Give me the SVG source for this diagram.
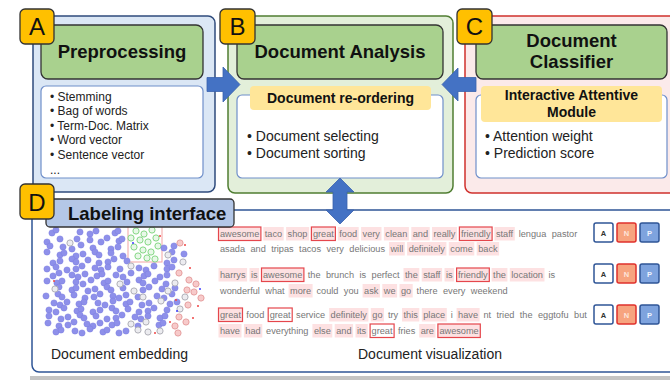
<svg xmlns="http://www.w3.org/2000/svg" width="670" height="380" viewBox="0 0 670 380">
<defs>
<style>
text{font-family:"Liberation Sans",Arial,sans-serif}
.hdr{fill:#a9d18e;stroke:#333;stroke-width:1.3}
.ht{font-size:18.5px;font-weight:bold;fill:#111;text-anchor:middle}
.wb{fill:#fff;stroke:#6f8fca;stroke-width:1.2}
.yl{fill:#ffe699}
.yt{font-size:14px;font-weight:bold;fill:#111;text-anchor:middle}
.li{font-size:12px;fill:#222}
.lm{font-size:14px;fill:#222}
.lab{fill:#ffc000;stroke:#333;stroke-width:1.3}
.lt{font-size:24px;fill:#111;text-anchor:middle}
.arr{fill:#4472c4;stroke:#3a62ad;stroke-width:0.8}
.b circle{r:3.1px}
.b{fill:#8e90ea;stroke:#8082e2;stroke-width:0.6}
.g{fill:#ececf0;stroke:#b0b0b8;stroke-width:1}
.pk{fill:#f7caca;stroke:#e6a0a0;stroke-width:1}
.gr{fill:#e8f8e8;stroke:#86d886;stroke-width:1}
.rs{fill:#ef4444}
.bs{fill:#2b2bff}
.w{font-size:9.2px;fill:#777}
.p{fill:#fde1e2}
.k{fill:#fde1e2;stroke:#e5464c;stroke-width:1.2}
.kw{fill:#fff;stroke:#e5464c;stroke-width:1.2}
.btA{fill:#fff;stroke:#2f5597;stroke-width:1.5}
.btN{fill:#f7a47f;stroke:#e0312c;stroke-width:1.5}
.btP{fill:#7ea3de;stroke:#2f5597;stroke-width:1.5}
.bt{font-size:7.5px;font-weight:bold;text-anchor:middle}
</style>
</defs>
<rect width="670" height="380" fill="#fff"/>
<rect x="30" y="376" width="640" height="4" fill="#c4c4c4"/>

<g id="panelA">
<rect x="33" y="16" width="182" height="176" rx="7" fill="#dbe7f5" stroke="#2f4b7c" stroke-width="1.5"/>
<rect class="hdr" x="41" y="25" width="162" height="54" rx="7"/>
<text class="ht" x="122" y="58">Preprocessing</text>
<rect class="wb" x="41" y="86" width="162" height="92" rx="5"/>
<text class="li" x="50" y="100.5">• Stemming</text>
<text class="li" x="50" y="115">• Bag of words</text>
<text class="li" x="50" y="129.7">• Term-Doc. Matrix</text>
<text class="li" x="50" y="144.4">• Word vector</text>
<text class="li" x="50" y="159">• Sentence vector</text>
<text class="li" x="50" y="173.5">...</text>
<rect class="lab" x="20" y="9" width="34" height="35" rx="5"/>
<text class="lt" x="37" y="35">A</text>
</g>

<g id="panelB">
<rect x="228" y="16" width="225" height="177" rx="7" fill="#e3efda" stroke="#507e32" stroke-width="1.5"/>
<rect class="hdr" x="237" y="25" width="206" height="54" rx="7"/>
<text class="ht" x="340" y="58">Document Analysis</text>
<rect class="wb" x="237" y="95" width="206" height="83" rx="5"/>
<rect class="yl" x="250" y="86" width="181" height="24" rx="4"/>
<text class="yt" x="340.5" y="103">Document re-ordering</text>
<text class="lm" x="247" y="140.7">• Document selecting</text>
<text class="lm" x="247" y="158">• Document sorting</text>
<rect class="lab" x="220" y="9" width="35" height="35" rx="5"/>
<text class="lt" x="237.5" y="35">B</text>
</g>

<g id="panelC">
<rect x="465" y="16" width="230" height="177" rx="7" fill="#fbeaea" stroke="#d0312d" stroke-width="1.5"/>
<rect class="hdr" x="476" y="25" width="191" height="54" rx="7"/>
<text class="ht" x="571.5" y="47">Document</text>
<text class="ht" x="571.5" y="68">Classifier</text>
<rect class="wb" x="476" y="95" width="191" height="83" rx="5"/>
<rect class="yl" x="481" y="86" width="181" height="36" rx="4"/>
<text class="yt" x="571.5" y="100">Interactive Attentive</text>
<text class="yt" x="571.5" y="117">Module</text>
<text class="lm" x="485" y="141">• Attention weight</text>
<text class="lm" x="485" y="158">• Prediction score</text>
<rect class="lab" x="457" y="9" width="35" height="35" rx="5"/>
<text class="lt" x="474.5" y="35">C</text>
</g>

<g id="panelD">
<rect x="32" y="210" width="660" height="162" rx="7" fill="#fff" stroke="#2f5597" stroke-width="1.5"/>
<g id="embedding">
<rect x="128" y="226" width="34" height="36" fill="none" stroke="#f2a3a3" stroke-width="1"/>
<g class="gr">
<circle cx="136" cy="231" r="3.1"/><circle cx="144" cy="234" r="3.1"/><circle cx="152" cy="230" r="3.1"/><circle cx="131" cy="238" r="3.1"/><circle cx="140" cy="240" r="3.1"/><circle cx="148" cy="242" r="3.1"/><circle cx="156" cy="238" r="3.1"/><circle cx="134" cy="247" r="3.1"/><circle cx="143" cy="250" r="3.1"/><circle cx="151" cy="252" r="3.1"/><circle cx="158" cy="246" r="3.1"/><circle cx="138" cy="256" r="3.1"/><circle cx="147" cy="258" r="3.1"/><circle cx="155" cy="259" r="3.1"/>
</g>
<g class="b">
<circle cx="52" cy="233" r="3.1"/><circle cx="56" cy="230" r="3.1"/><circle cx="80" cy="232" r="3.1"/><circle cx="90" cy="234" r="3.1"/><circle cx="96" cy="231" r="3.1"/><circle cx="115" cy="233" r="3.1"/><circle cx="118" cy="231" r="3.1"/>
<circle cx="47" cy="242" r="3.1"/><circle cx="60" cy="239" r="3.1"/><circle cx="77" cy="239" r="3.1"/><circle cx="90" cy="240" r="3.1"/><circle cx="101" cy="242" r="3.1"/><circle cx="107" cy="238" r="3.1"/><circle cx="119" cy="241" r="3.1"/><circle cx="122" cy="239" r="3.1"/>
<circle cx="50" cy="246" r="3.1"/><circle cx="63" cy="247" r="3.1"/><circle cx="72" cy="249" r="3.1"/><circle cx="81" cy="245" r="3.1"/><circle cx="93" cy="248" r="3.1"/><circle cx="111" cy="249" r="3.1"/><circle cx="118" cy="247" r="3.1"/><circle cx="164" cy="248" r="3.1"/><circle cx="174" cy="246" r="3.1"/>
<circle cx="47" cy="252" r="3.1"/><circle cx="60" cy="255" r="3.1"/><circle cx="64" cy="253" r="3.1"/><circle cx="76" cy="256" r="3.1"/><circle cx="83" cy="254" r="3.1"/><circle cx="95" cy="252" r="3.1"/><circle cx="99" cy="255" r="3.1"/><circle cx="111" cy="253" r="3.1"/><circle cx="123" cy="256" r="3.1"/><circle cx="172" cy="252" r="3.1"/><circle cx="184" cy="254" r="3.1"/>
<circle cx="53" cy="263" r="3.1"/><circle cx="60" cy="261" r="3.1"/><circle cx="72" cy="259" r="3.1"/><circle cx="76" cy="262" r="3.1"/><circle cx="88" cy="260" r="3.1"/><circle cx="99" cy="263" r="3.1"/><circle cx="108" cy="262" r="3.1"/><circle cx="114" cy="259" r="3.1"/><circle cx="127" cy="261" r="3.1"/><circle cx="167" cy="263" r="3.1"/><circle cx="174" cy="260" r="3.1"/>
<circle cx="47" cy="269" r="3.1"/><circle cx="56" cy="267" r="3.1"/><circle cx="67" cy="270" r="3.1"/><circle cx="76" cy="269" r="3.1"/><circle cx="82" cy="266" r="3.1"/><circle cx="95" cy="268" r="3.1"/><circle cx="101" cy="270" r="3.1"/><circle cx="108" cy="267" r="3.1"/><circle cx="120" cy="269" r="3.1"/><circle cx="139" cy="268" r="3.1"/><circle cx="146" cy="270" r="3.1"/><circle cx="154" cy="266" r="3.1"/><circle cx="167" cy="269" r="3.1"/><circle cx="172" cy="267" r="3.1"/>
<circle cx="53" cy="276" r="3.1"/><circle cx="59" cy="273" r="3.1"/><circle cx="72" cy="275" r="3.1"/><circle cx="78" cy="277" r="3.1"/><circle cx="85" cy="274" r="3.1"/><circle cx="97" cy="276" r="3.1"/><circle cx="102" cy="274" r="3.1"/><circle cx="116" cy="275" r="3.1"/><circle cx="123" cy="277" r="3.1"/><circle cx="131" cy="273" r="3.1"/><circle cx="144" cy="276" r="3.1"/><circle cx="148" cy="274" r="3.1"/><circle cx="160" cy="277" r="3.1"/><circle cx="167" cy="275" r="3.1"/>
<circle cx="47" cy="281" r="3.1"/><circle cx="57" cy="283" r="3.1"/><circle cx="62" cy="281" r="3.1"/><circle cx="76" cy="282" r="3.1"/><circle cx="83" cy="284" r="3.1"/><circle cx="91" cy="280" r="3.1"/><circle cx="104" cy="283" r="3.1"/><circle cx="108" cy="281" r="3.1"/><circle cx="127" cy="282" r="3.1"/><circle cx="139" cy="280" r="3.1"/><circle cx="143" cy="283" r="3.1"/><circle cx="155" cy="281" r="3.1"/><circle cx="166" cy="284" r="3.1"/>
<circle cx="59" cy="287" r="3.1"/><circle cx="72" cy="290" r="3.1"/><circle cx="76" cy="288" r="3.1"/><circle cx="88" cy="291" r="3.1"/><circle cx="95" cy="289" r="3.1"/><circle cx="107" cy="287" r="3.1"/><circle cx="111" cy="290" r="3.1"/><circle cx="123" cy="288" r="3.1"/><circle cx="143" cy="290" r="3.1"/><circle cx="149" cy="287" r="3.1"/><circle cx="162" cy="289" r="3.1"/><circle cx="175" cy="288" r="3.1"/>
<circle cx="46" cy="296" r="3.1"/><circle cx="58" cy="294" r="3.1"/><circle cx="62" cy="297" r="3.1"/><circle cx="74" cy="295" r="3.1"/><circle cx="85" cy="298" r="3.1"/><circle cx="94" cy="297" r="3.1"/><circle cx="100" cy="294" r="3.1"/><circle cx="113" cy="296" r="3.1"/><circle cx="119" cy="298" r="3.1"/><circle cx="126" cy="295" r="3.1"/><circle cx="138" cy="297" r="3.1"/><circle cx="157" cy="296" r="3.1"/><circle cx="164" cy="298" r="3.1"/><circle cx="172" cy="294" r="3.1"/>
<circle cx="54" cy="303" r="3.1"/><circle cx="60" cy="305" r="3.1"/><circle cx="67" cy="302" r="3.1"/><circle cx="79" cy="304" r="3.1"/><circle cx="84" cy="302" r="3.1"/><circle cx="98" cy="303" r="3.1"/><circle cx="105" cy="305" r="3.1"/><circle cx="113" cy="301" r="3.1"/><circle cx="126" cy="304" r="3.1"/><circle cx="130" cy="302" r="3.1"/><circle cx="142" cy="305" r="3.1"/><circle cx="149" cy="303" r="3.1"/><circle cx="170" cy="304" r="3.1"/><circle cx="177" cy="302" r="3.1"/>
<circle cx="49" cy="310" r="3.1"/><circle cx="56" cy="312" r="3.1"/><circle cx="64" cy="308" r="3.1"/><circle cx="77" cy="311" r="3.1"/><circle cx="81" cy="309" r="3.1"/><circle cx="93" cy="312" r="3.1"/><circle cx="100" cy="310" r="3.1"/><circle cx="112" cy="308" r="3.1"/><circle cx="116" cy="311" r="3.1"/><circle cx="128" cy="309" r="3.1"/><circle cx="139" cy="312" r="3.1"/><circle cx="148" cy="311" r="3.1"/><circle cx="154" cy="308" r="3.1"/><circle cx="167" cy="310" r="3.1"/>
<circle cx="49" cy="316" r="3.1"/><circle cx="61" cy="319" r="3.1"/><circle cx="68" cy="317" r="3.1"/><circle cx="80" cy="315" r="3.1"/><circle cx="84" cy="318" r="3.1"/><circle cx="96" cy="316" r="3.1"/><circle cx="107" cy="319" r="3.1"/><circle cx="116" cy="318" r="3.1"/><circle cx="122" cy="315" r="3.1"/><circle cx="135" cy="317" r="3.1"/><circle cx="141" cy="319" r="3.1"/><circle cx="148" cy="316" r="3.1"/><circle cx="160" cy="318" r="3.1"/><circle cx="165" cy="316" r="3.1"/>
<circle cx="48" cy="323" r="3.1"/><circle cx="59" cy="326" r="3.1"/><circle cx="68" cy="325" r="3.1"/><circle cx="74" cy="322" r="3.1"/><circle cx="87" cy="324" r="3.1"/><circle cx="93" cy="326" r="3.1"/><circle cx="100" cy="323" r="3.1"/><circle cx="112" cy="325" r="3.1"/><circle cx="117" cy="323" r="3.1"/><circle cx="138" cy="326" r="3.1"/><circle cx="159" cy="325" r="3.1"/><circle cx="163" cy="323" r="3.1"/>
<circle cx="56" cy="332" r="3.1"/><circle cx="61" cy="330" r="3.1"/><circle cx="75" cy="331" r="3.1"/><circle cx="82" cy="333" r="3.1"/><circle cx="90" cy="329" r="3.1"/><circle cx="103" cy="332" r="3.1"/><circle cx="107" cy="330" r="3.1"/><circle cx="119" cy="333" r="3.1"/><circle cx="126" cy="331" r="3.1"/>
</g>
<g class="g">
<circle cx="70" cy="243" r="3.1"/><circle cx="168" cy="255" r="3.1"/><circle cx="131" cy="266" r="3.1"/><circle cx="120" cy="284" r="3.1"/><circle cx="55" cy="289" r="3.1"/><circle cx="134" cy="291" r="3.1"/><circle cx="168" cy="291" r="3.1"/><circle cx="143" cy="297" r="3.1"/><circle cx="185" cy="297" r="3.1"/><circle cx="161" cy="301" r="3.1"/><circle cx="175" cy="283" r="3.1"/><circle cx="180" cy="309" r="3.1"/><circle cx="131" cy="324" r="3.1"/><circle cx="146" cy="322" r="3.1"/><circle cx="138" cy="330" r="3.1"/><circle cx="148" cy="332" r="3.1"/><circle cx="160" cy="331" r="3.1"/><circle cx="183" cy="262" r="3.1"/>
</g>
<g class="pk">
<circle cx="180" cy="243" r="3.1"/><circle cx="179" cy="273" r="3.1"/><circle cx="189" cy="280" r="3.1"/><circle cx="196" cy="284" r="3.1"/><circle cx="187" cy="290" r="3.1"/><circle cx="194" cy="292" r="3.1"/><circle cx="201" cy="298" r="3.1"/><circle cx="188" cy="305" r="3.1"/><circle cx="179" cy="317" r="3.1"/><circle cx="186" cy="322" r="3.1"/><circle cx="175" cy="326" r="3.1"/><circle cx="178" cy="333" r="3.1"/>
</g>
<g class="rs">
<circle cx="160" cy="236" r="1"/><circle cx="185" cy="245" r="1"/><circle cx="190" cy="268" r="1"/><circle cx="176" cy="300" r="1"/><circle cx="198" cy="306" r="1"/><circle cx="170" cy="322" r="1"/><circle cx="155" cy="333" r="1"/><circle cx="54" cy="281" r="1"/><circle cx="193" cy="318" r="1"/>
</g>
<g class="bs">
<circle cx="177" cy="311" r="0.9"/><circle cx="200" cy="289" r="0.9"/><circle cx="133" cy="243" r="0.9"/>
</g>
</g>
<text class="lm" x="51" y="358.5">Document embedding</text>

<g id="visualization">
<g>
<rect class="k" x="218.5" y="227" width="42.4" height="13.5"/><rect class="p" x="263.3" y="227" width="20.4" height="13.5"/><rect class="p" x="286.1" y="227" width="23" height="13.5"/><rect class="k" x="311.4" y="227" width="24" height="13.5"/><rect class="p" x="337.8" y="227" width="20.9" height="13.5"/><rect class="p" x="361.1" y="227" width="20.4" height="13.5"/><rect class="p" x="383.9" y="227" width="25" height="13.5"/><rect class="p" x="411.3" y="227" width="18.4" height="13.5"/><rect class="p" x="432" y="227" width="25" height="13.5"/><rect class="k" x="459.4" y="227" width="32.7" height="13.5"/><rect class="p" x="494.4" y="227" width="20.4" height="13.5"/>
<rect class="p" x="389" y="242" width="15.8" height="13.5"/><rect class="p" x="407.1" y="242" width="39.3" height="13.5"/><rect class="p" x="448.8" y="242" width="25.5" height="13.5"/><rect class="p" x="476.7" y="242" width="22.4" height="13.5"/>
<text class="w" y="237"><tspan x="220">awesome</tspan><tspan x="264.77">taco</tspan><tspan x="287.56">shop</tspan><tspan x="312.91">great</tspan><tspan x="339.28">food</tspan><tspan x="362.58">very</tspan><tspan x="385.36">clean</tspan><tspan x="412.75">and</tspan><tspan x="433.5">really</tspan><tspan x="460.88">friendly</tspan><tspan x="495.93">staff</tspan><tspan x="518.72">lengua</tspan><tspan x="551.74">pastor</tspan></text>
<text class="w" y="252"><tspan x="220">asada</tspan><tspan x="250.46">and</tspan><tspan x="271.21">tripas</tspan><tspan x="299.1">tacos</tspan><tspan x="326.49">very</tspan><tspan x="349.27">delicious</tspan><tspan x="390.46">will</tspan><tspan x="408.63">definitely</tspan><tspan x="450.33">come</tspan><tspan x="478.22">back</tspan></text>
</g>
<g>
<rect class="p" x="218.5" y="268" width="28.6" height="13.5"/><rect class="p" x="249.5" y="268" width="9.6" height="13.5"/><rect class="k" x="261.5" y="268" width="42.4" height="13.5"/><rect class="p" x="403.5" y="268" width="15.8" height="13.5"/><rect class="p" x="421.7" y="268" width="20.4" height="13.5"/><rect class="p" x="444.5" y="268" width="9.6" height="13.5"/><rect class="k" x="456.6" y="268" width="32.7" height="13.5"/><rect class="p" x="491.6" y="268" width="15.8" height="13.5"/><rect class="p" x="509.8" y="268" width="34.7" height="13.5"/>
<rect class="p" x="288.6" y="284" width="24" height="13.5"/><rect class="p" x="362.6" y="284" width="17.3" height="13.5"/><rect class="p" x="382.3" y="284" width="14.8" height="13.5"/><rect class="p" x="399.5" y="284" width="13.2" height="13.5"/>
<text class="w" y="278"><tspan x="220">harrys</tspan><tspan x="250.96">is</tspan><tspan x="263">awesome</tspan><tspan x="307.77">the</tspan><tspan x="325.96">brunch</tspan><tspan x="359.48">is</tspan><tspan x="371.52">perfect</tspan><tspan x="405.04">the</tspan><tspan x="423.23">staff</tspan><tspan x="446.02">is</tspan><tspan x="458.06">friendly</tspan><tspan x="493.11">the</tspan><tspan x="511.3">location</tspan><tspan x="548.4">is</tspan></text>
<text class="w" y="294"><tspan x="220">wonderful</tspan><tspan x="265.28">what</tspan><tspan x="290.11">more</tspan><tspan x="316.47">could</tspan><tspan x="343.86">you</tspan><tspan x="364.09">ask</tspan><tspan x="383.81">we</tspan><tspan x="400.97">go</tspan><tspan x="416.6">there</tspan><tspan x="442.97">every</tspan><tspan x="470.86">weekend</tspan></text>
</g>
<g>
<rect class="k" x="218.5" y="308" width="24" height="13.5"/><rect class="kw" x="268.2" y="308" width="24" height="13.5"/><rect class="p" x="329.1" y="308" width="39.3" height="13.5"/><rect class="p" x="370.8" y="308" width="13.2" height="13.5"/><rect class="p" x="402" y="308" width="17.3" height="13.5"/><rect class="p" x="421.8" y="308" width="25" height="13.5"/><rect class="p" x="456.6" y="308" width="23" height="13.5"/>
<rect class="p" x="218.5" y="324" width="23" height="13.5"/><rect class="p" x="243.9" y="324" width="18.4" height="13.5"/><rect class="p" x="312.4" y="324" width="19.9" height="13.5"/><rect class="p" x="334.7" y="324" width="18.4" height="13.5"/><rect class="p" x="355.5" y="324" width="12.2" height="13.5"/><rect class="kw" x="370.1" y="324" width="24" height="13.5"/><rect class="p" x="419.2" y="324" width="16.3" height="13.5"/><rect class="k" x="437.9" y="324" width="42.4" height="13.5"/>
<text class="w" y="318"><tspan x="220">great</tspan><tspan x="246.37">food</tspan><tspan x="269.67">great</tspan><tspan x="296.04">service</tspan><tspan x="330.58">definitely</tspan><tspan x="372.28">go</tspan><tspan x="387.91">try</tspan><tspan x="403.53">this</tspan><tspan x="423.25">place</tspan><tspan x="450.64">i</tspan><tspan x="458.08">have</tspan><tspan x="483.43">nt</tspan><tspan x="496.5">tried</tspan><tspan x="519.79">the</tspan><tspan x="537.98">eggtofu</tspan><tspan x="574.07">but</tspan></text>
<text class="w" y="334"><tspan x="220">have</tspan><tspan x="245.35">had</tspan><tspan x="266.1">everything</tspan><tspan x="313.94">else</tspan><tspan x="336.21">and</tspan><tspan x="356.96">its</tspan><tspan x="371.56">great</tspan><tspan x="397.93">fries</tspan><tspan x="420.71">are</tspan><tspan x="439.4">awesome</tspan></text>
</g>
<g id="buttons">
<rect class="btA" x="594" y="223" width="19" height="19" rx="2"/><rect class="btN" x="617" y="223" width="19" height="19" rx="2"/><rect class="btP" x="640" y="223" width="19" height="19" rx="2"/>
<text class="bt" x="603.5" y="235.5" fill="#333">A</text><text class="bt" x="626.5" y="235.5" fill="#fde4da">N</text><text class="bt" x="649.5" y="235.5" fill="#eef3ff">P</text>
<rect class="btA" x="594" y="264" width="19" height="19" rx="2"/><rect class="btN" x="617" y="264" width="19" height="19" rx="2"/><rect class="btP" x="640" y="264" width="19" height="19" rx="2"/>
<text class="bt" x="603.5" y="276.5" fill="#333">A</text><text class="bt" x="626.5" y="276.5" fill="#fde4da">N</text><text class="bt" x="649.5" y="276.5" fill="#eef3ff">P</text>
<rect class="btA" x="594" y="305" width="19" height="19" rx="2"/><rect class="btN" x="617" y="305" width="19" height="19" rx="2"/><rect class="btP" x="640" y="305" width="19" height="19" rx="2"/>
<text class="bt" x="603.5" y="317.5" fill="#333">A</text><text class="bt" x="626.5" y="317.5" fill="#fde4da">N</text><text class="bt" x="649.5" y="317.5" fill="#eef3ff">P</text>
</g>
</g>
<text class="lm" x="358" y="359">Document visualization</text>

<rect x="46" y="199" width="188" height="28" rx="4" fill="#b4c7e7" stroke="#333" stroke-width="1.3"/>
<text x="68" y="220" style="font-size:18.5px;font-weight:bold;fill:#111">Labeling interface</text>
<rect class="lab" x="20" y="184" width="34" height="35" rx="5"/>
<text class="lt" x="37" y="211">D</text>
</g>

<g id="connectors">
<polygon class="arr" points="207,77.5 223,77.5 223,67 240,84.5 223,102 223,91.5 207,91.5"/>
<polygon class="arr" points="476,77.5 458,77.5 458,68 442,84.5 458,101 458,91.5 476,91.5"/>
<polygon class="arr" points="340,178 354,192 347,192 347,210 354,210 340,224 326,210 333,210 333,192 326,192"/>
</g>
</svg>
